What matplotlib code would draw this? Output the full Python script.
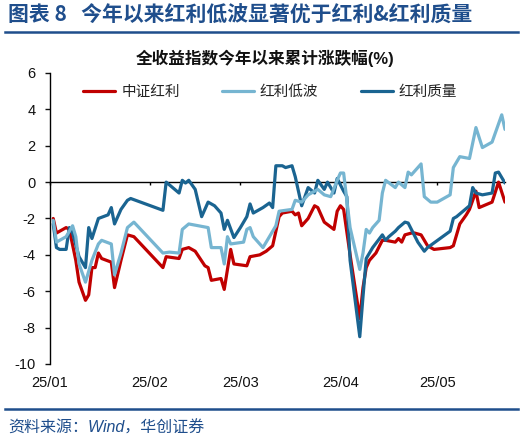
import matplotlib
matplotlib.use("Agg")
import matplotlib.pyplot as plt
import matplotlib.dates as mdates
from matplotlib.lines import Line2D
import pandas as pd

plt.rcParams["font.family"] = ["Liberation Sans", "Noto Sans CJK SC"]
plt.rcParams["axes.unicode_minus"] = False

# ==========================================
# DATA
# ==========================================

red_dates = [
    "01-02", "01-03", "01-06", "01-07", "01-09", "01-10", "01-12", "01-13",
    "01-14", "01-15", "01-16", "01-17", "01-20", "01-21", "01-23", "01-25",
    "01-27", "02-05", "02-06", "02-10", "02-11", "02-13", "02-15", "02-18",
    "02-19", "02-20", "02-23", "02-24", "02-26", "02-27", "03-03", "03-04",
    "03-07", "03-09", "03-11", "03-13", "03-14", "03-17", "03-18", "03-19",
    "03-20", "03-22", "03-24", "03-25", "03-27", "03-30", "03-31", "04-01",
    "04-02", "04-04", "04-07", "04-08", "04-09", "04-10", "04-12", "04-14",
    "04-15", "04-18", "04-19", "04-20", "04-21", "04-23", "04-24", "04-26",
    "04-28", "04-30", "05-05", "05-06", "05-07", "05-08", "05-10", "05-11",
    "05-13", "05-14", "05-18", "05-20", "05-22",
]
red_vals = [
    -2.0, -2.8, -2.5, -2.6, -4.3, -5.5, -6.5, -6.2,
    -4.7, -4.7, -3.9, -4.2, -4.4, -5.8, -4.3, -2.9,
    -3.0, -4.7, -4.1, -4.2, -3.7, -3.6, -3.8, -4.6,
    -4.7, -5.4, -5.3, -5.9, -3.7, -4.5, -4.6, -4.1,
    -4.0, -3.8, -3.5, -1.9, -1.7, -1.6, -1.8, -1.7,
    -2.4, -2.0, -1.3, -1.4, -2.2, -2.6, -1.6, -1.3,
    -1.5, -4.0, -7.5, -5.8, -4.7, -4.3, -3.9, -3.2,
    -3.2, -3.3, -3.1, -3.3, -2.9, -2.8, -2.8, -2.9,
    -3.5, -3.7, -3.6, -3.5, -2.9, -2.3, -1.8, -1.5,
    -0.5, -1.4, -1.1, 0.0, -1.1,
]

lowvol_dates = [
    "01-02", "01-03", "01-06", "01-08", "01-09", "01-10", "01-12", "01-14",
    "01-16", "01-17", "01-20", "01-21", "01-23", "01-25", "01-27", "02-05",
    "02-07", "02-10", "02-11", "02-13", "02-19", "02-20", "02-23", "02-24",
    "02-25", "02-26", "03-02", "03-03", "03-04", "03-05", "03-08", "03-10",
    "03-12", "03-13", "03-17", "03-18", "03-20", "03-22", "03-25", "03-27",
    "03-29", "03-31", "04-01", "04-02", "04-04", "04-07", "04-08", "04-09",
    "04-10", "04-11", "04-13", "04-14", "04-15", "04-18", "04-19", "04-21",
    "04-22", "04-23", "04-26", "04-27", "04-29", "05-01", "05-05", "05-06",
    "05-08", "05-11", "05-13", "05-15", "05-18", "05-21", "05-22",
]
lowvol_vals = [
    -2.1, -3.3, -3.0, -2.4, -3.0, -4.5, -5.5, -4.3,
    -3.4, -3.2, -3.4, -5.1, -3.9, -2.5, -2.2, -3.9,
    -3.85, -3.9, -2.6, -2.3, -2.5, -3.6, -3.6, -4.5,
    -3.0, -3.4, -3.3, -2.6, -2.5, -3.0, -3.6, -3.0,
    -2.4, -1.6, -1.5, -1.0, -1.1, -0.7, -0.4, -0.7,
    -0.8, 0.1, 0.5, 0.5, -2.5, -4.8, -3.9, -2.6,
    -2.8, -2.5, -2.1, -0.6, 0.1, -0.3, 0.0, -0.3,
    0.55, 0.4, 1.0, -0.8, -1.1, -1.1, -0.7, 0.8,
    1.4, 1.3, 3.0, 1.9, 2.2, 3.7, 2.9,
]

quality_dates = [
    "01-02", "01-03", "01-04", "01-06", "01-07", "01-08", "01-10", "01-12",
    "01-13", "01-14", "01-16", "01-19", "01-20", "01-21", "01-23", "01-25",
    "01-26", "02-05", "02-06", "02-08", "02-10", "02-11", "02-12", "02-13",
    "02-15", "02-17", "02-19", "02-21", "02-23", "02-24", "02-25", "02-27",
    "03-01", "03-02", "03-03", "03-04", "03-05", "03-08", "03-10", "03-11",
    "03-12", "03-14", "03-15", "03-17", "03-18", "03-20", "03-22", "03-24",
    "03-25", "03-27", "03-28", "03-30", "03-31", "04-02", "04-03", "04-04",
    "04-07", "04-08", "04-09", "04-11", "04-14", "04-15", "04-16", "04-18",
    "04-19", "04-21", "04-22", "04-25", "04-27", "04-28", "05-05", "05-06",
    "05-07", "05-11", "05-12", "05-13", "05-15", "05-18", "05-19", "05-20",
    "05-22",
]
quality_vals = [
    -2.3, -3.6, -3.7, -3.7, -2.5, -2.8, -4.1, -4.7,
    -2.5, -3.1, -2.0, -1.8, -1.4, -2.3, -1.5, -1.0,
    -0.9, -1.55, 0.0, -0.3, -0.6, 0.1, -0.05, 0.1,
    -0.4, -1.9, -1.1, -1.3, -1.7, -2.6, -2.1, -3.05,
    -2.5, -2.2, -1.9, -1.2, -1.7, -1.4, -1.15, -1.4,
    0.9, 0.9, 0.8, 0.9, 0.3, -1.3, -0.3, -0.6,
    0.1, -0.4, 0.0, -0.6, 0.2, -0.5, -0.8, -4.3,
    -8.5, -6.3, -4.2, -3.6, -2.9, -3.2, -3.0, -2.7,
    -2.5, -2.2, -2.25, -3.3, -3.8, -3.6, -2.7, -2.0,
    -1.9, -1.3, -0.3, -0.6, -0.7, -0.6, 0.5, 0.55,
    -0.05,
]

y_ticks = [-10, -8, -6, -4, -2, 0, 2, 4, 6]


def to_dates(days):
    return pd.to_datetime(["2025-" + d for d in days])


# ==========================================
# FIGURE
# ==========================================

fig = plt.figure(figsize=(5.24, 4.44), dpi=100)

navy = "#1F4E8C"

fig.text(0.015, 0.966, "图表 8   今年以来红利低波显著优于红利&红利质量",
         fontsize=15, fontweight="bold", color=navy,
         family=["Noto Sans CJK SC"], ha="left", va="center")
fig.add_artist(Line2D([0.01, 0.988], [0.928, 0.928], transform=fig.transFigure,
                      color=navy, linewidth=1.8))

fig.text(0.506, 0.869, "全收益指数今年以来累计涨跌幅(%)",
         fontsize=12, fontweight="bold", color="#111111",
         ha="center", va="center")

fig.add_artist(Line2D([0.01, 0.988], [0.079, 0.079], transform=fig.transFigure,
                      color=navy, linewidth=1.8))
fig.text(0.015, 0.036, "资料来源：Wind，华创证券", fontsize=11.5, color=navy,
         style="italic", ha="left", va="center")

ax = fig.add_axes([0.0954, 0.1802, 0.8683, 0.6554])

line_style = dict(linewidth=2.3, solid_joinstyle="round", solid_capstyle="round")

ax.plot(to_dates(red_dates), red_vals, color="#C00000",
        label="中证红利", zorder=3, **line_style)
ax.plot(to_dates(lowvol_dates), lowvol_vals, color="#76B5D1",
        label="红利低波", zorder=5, **line_style)
ax.plot(to_dates(quality_dates), quality_vals, color="#1A6491",
        label="红利质量", zorder=4, **line_style)

ax.set_xlim(pd.Timestamp("2025-01-01"), pd.Timestamp("2025-05-22"))
ax.set_ylim(-10, 6)
ax.set_yticks(y_ticks)

for side in ["top", "right", "bottom"]:
    ax.spines[side].set_visible(False)
ax.spines["left"].set_linewidth(1.0)

ax.xaxis.set_major_locator(mdates.MonthLocator())
ax.xaxis.set_major_formatter(mdates.DateFormatter("%y/%m"))
ax.tick_params(axis="x", length=0, pad=9, labelsize=10.5, colors="#111111")
ax.tick_params(axis="y", direction="out", length=3.5, width=1.0, pad=7,
               labelsize=10.5, colors="#111111")

# zero line with month ticks
zero_axis = ax.secondary_xaxis(0, transform=ax.transData)
zero_axis.xaxis.set_major_locator(mdates.MonthLocator())
zero_axis.tick_params(axis="x", direction="out", length=2.5, width=1.0,
                      labelbottom=False)
zero_axis.spines["bottom"].set_linewidth(1.0)

legend = ax.legend(loc="center", bbox_to_anchor=(0.484, 0.935), ncol=3,
                   frameon=False, fontsize=10.5, handlelength=2.2,
                   handletextpad=0.4, columnspacing=2.9)
for text in legend.get_texts():
    text.set_color("#222222")

fig.savefig("out.png", dpi=100)
